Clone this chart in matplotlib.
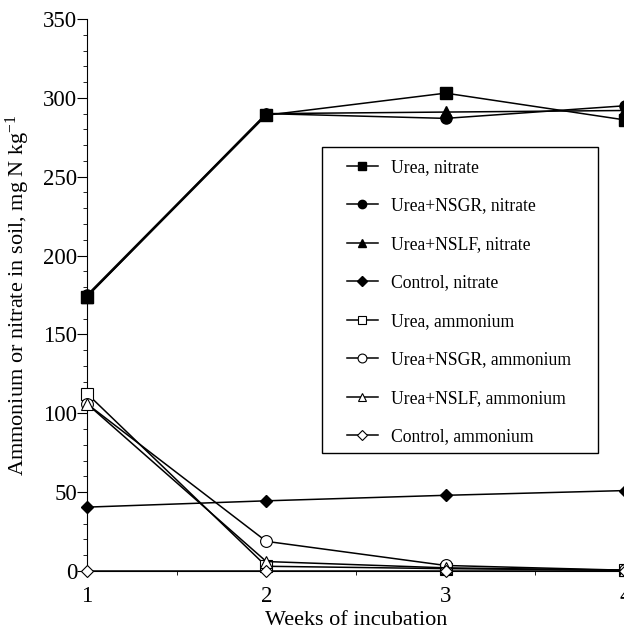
import matplotlib.pyplot as plt
import matplotlib.patches as patches
import numpy as np

plt.rcParams['font.family'] = ['Liberation Serif', 'DejaVu Serif']

weeks = [1, 2, 3, 4]

# nitrate
urea_no3 = [174, 289, 303, 286]
nsgr_no3 = [175, 290, 287, 295]
nslf_no3 = [174, 290, 291, 292]
ctrl_no3 = [40.5, 44.5, 48, 51]

# ammonium
urea_nh4 = [112.5, 3, 1.5, 0.5]
nsgr_nh4 = [106, 18.8, 3.5, 0.5]
nslf_nh4 = [106, 6, 2, 0.5]
ctrl_nh4 = [0, 0, 0, 0]

fig = plt.figure(figsize=(6.24, 6.36), dpi=100)
ax = fig.add_axes([0.1394, 0.1022, 0.8622, 0.8679])

lw = 1.1
ax.plot(weeks, urea_no3, color='black', lw=lw, marker='s', ms=8, label='Urea, nitrate', clip_on=False, zorder=5)
ax.plot(weeks, nsgr_no3, color='black', lw=lw, marker='o', ms=8, label='Urea+NSGR, nitrate', clip_on=False, zorder=5)
ax.plot(weeks, nslf_no3, color='black', lw=lw, marker='^', ms=8, label='Urea+NSLF, nitrate', clip_on=False, zorder=5)
ax.plot(weeks, ctrl_no3, color='black', lw=lw, marker='D', ms=6.5, label='Control, nitrate', clip_on=False, zorder=5)
ax.plot(weeks, urea_nh4, color='black', lw=lw, marker='s', ms=8, mfc='white', mew=0.8, label='Urea, ammonium', clip_on=False, zorder=5)
ax.plot(weeks, nsgr_nh4, color='black', lw=lw, marker='o', ms=8.5, mfc='white', mew=0.8, label='Urea+NSGR, ammonium', clip_on=False, zorder=5)
ax.plot(weeks, nslf_nh4, color='black', lw=lw, marker='^', ms=8, mfc='white', mew=0.8, label='Urea+NSLF, ammonium', clip_on=False, zorder=5)
ax.plot(weeks, ctrl_nh4, color='black', lw=lw, marker='D', ms=6.5, mfc='white', mew=0.8, label='Control, ammonium', clip_on=False, zorder=6)

ax.set_xlim(1, 4)
ax.set_ylim(0, 350)
ax.set_xticks([1, 2, 3, 4])
ax.set_xticks([1.5, 2.5, 3.5], minor=True)
ax.set_yticks(np.arange(0, 351, 50))
ax.set_yticks(np.arange(0, 351, 10), minor=True)

ax.spines['top'].set_visible(False)
ax.spines['right'].set_visible(False)
ax.tick_params(axis='y', which='major', direction='out', length=7, labelsize=16.5, pad=0)
ax.tick_params(axis='y', which='minor', direction='out', length=3)
ax.tick_params(axis='x', which='major', direction='out', length=3, labelsize=16.5, pad=8)
ax.tick_params(axis='x', which='minor', direction='out', length=3)

ax.set_xlabel('Weeks of incubation', fontsize=16, labelpad=3)
ax.set_ylabel(r'Ammonium or nitrate in soil, mg N kg$\mathregular{^{-1}}$', fontsize=16, labelpad=8)

# legend frame drawn separately so the inner padding matches
frame = patches.Rectangle((0.437, 0.214), 0.513, 0.554, transform=ax.transAxes,
                          fill=True, facecolor='white', edgecolor='black', lw=1.0, zorder=7)
ax.add_patch(frame)
leg = ax.legend(loc='upper left', bbox_to_anchor=(0.483, 0.7466),
                fontsize=12.7, frameon=False, labelspacing=1.22,
                handlelength=1.76, handletextpad=0.74,
                borderpad=0, borderaxespad=0, markerscale=0.75)
leg.set_zorder(8)

fig.savefig('out.png', dpi=100)
